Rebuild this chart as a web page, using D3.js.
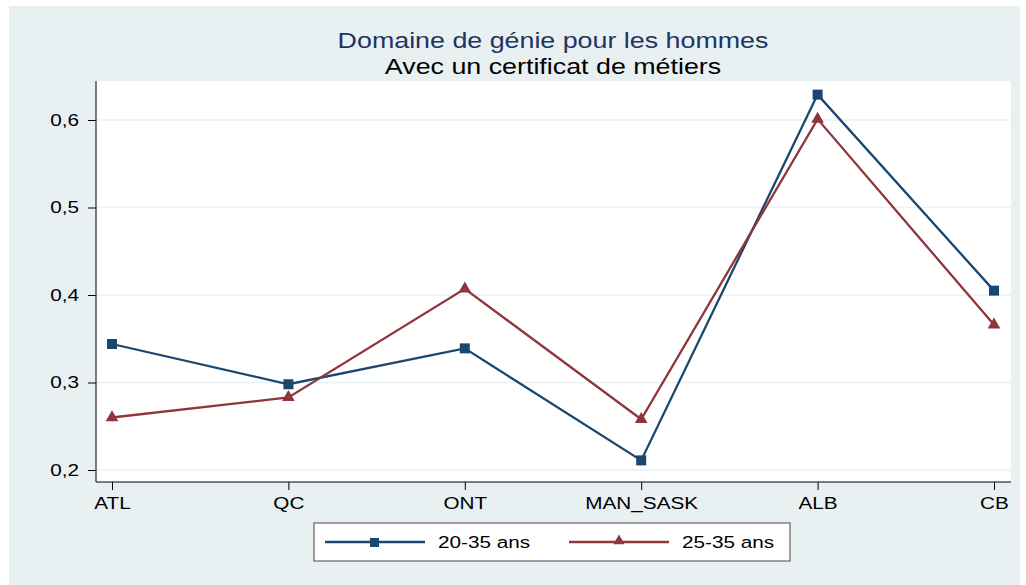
<!DOCTYPE html>
<html>
<head>
<meta charset="utf-8">
<script src="https://cdn.jsdelivr.net/npm/d3@7"></script>
<style>
  body { margin: 0; background: #fff; }
  text { font-family: "Liberation Sans", Arial, sans-serif; }
</style>
</head>
<body>
<div id="visualization"></div>
<script>
var regions = ["ATL", "QC", "ONT", "MAN_SASK", "ALB", "CB"];
var ans2035 = [0.344, 0.298, 0.339, 0.211, 0.629, 0.405];
var ans2535 = [0.260, 0.283, 0.407, 0.258, 0.601, 0.366];
var yTicks = [0.2, 0.3, 0.4, 0.5, 0.6];
var seriesNames = ["20-35 ans", "25-35 ans"];

render();

function render() {
  var W = 1026, H = 585;
  var plot = {left: 96, right: 1011, top: 81, bottom: 482};
  var blue = "#1a476f", red = "#90353b";
  var sx = 1.22; // the original text is drawn wider than it is tall

  var svg = d3.select("#visualization").append("svg")
      .attr("width", W).attr("height", H);

  // stretched text, placed at (px, py)
  function label(parent, px, py, str, size, anchor, color) {
    return parent.append("g").attr("transform", "translate(" + px + "," + py + ") scale(" + sx + ",1)")
      .append("text").attr("text-anchor", anchor || "start")
      .attr("font-size", size).attr("fill", color || "#000").text(str);
  }

  // graph region
  svg.append("rect").attr("x", 9).attr("y", 6).attr("width", W - 15).attr("height", H - 6)
     .attr("fill", "#e8f0f2");
  svg.append("rect").attr("x", plot.left).attr("y", plot.top)
     .attr("width", plot.right - plot.left).attr("height", plot.bottom - plot.top)
     .attr("fill", "#fff");

  var x = d3.scalePoint().domain(regions).range([112, 994]);
  var y = d3.scaleLinear().domain([0.2, 0.6]).range([470, 120]);

  // gridlines
  svg.append("g").selectAll("line").data(yTicks).enter().append("line")
     .attr("x1", plot.left).attr("x2", plot.right)
     .attr("y1", d => y(d)).attr("y2", d => y(d))
     .attr("stroke", "#eaf2f3").attr("stroke-width", 1.5);

  var fmt = d => d3.format(".1f")(d).replace(".", ",");

  var yAxis = d3.axisLeft(y).tickValues(yTicks).tickFormat(fmt).tickSize(8).tickPadding(9);
  var gy = svg.append("g").attr("transform", "translate(" + plot.left + ",0)").call(yAxis);
  gy.select(".domain").attr("d", "M0," + plot.top + "V" + plot.bottom).attr("stroke", "#000");
  gy.selectAll(".tick text").attr("transform", "scale(" + sx + ",1)")
    .attr("x", -17 / sx);

  var xAxis = d3.axisBottom(x).tickSize(8).tickPadding(7);
  var gx = svg.append("g").attr("transform", "translate(0," + plot.bottom + ")").call(xAxis);
  gx.select(".domain").attr("d", "M" + plot.left + ",0H" + plot.right).attr("stroke", "#000");
  gx.selectAll(".tick text").attr("transform", "scale(" + sx + ",1)");

  svg.selectAll(".tick text").attr("font-size", 17).attr("fill", "#000")
     .style("font-family", "'Liberation Sans', Arial, sans-serif");
  svg.selectAll(".tick line").attr("stroke", "#000");

  var line = d3.line().x((d, i) => x(regions[i])).y(d => y(d));
  var tri = d3.symbol().type(d3.symbolTriangle).size(70);

  svg.append("path").datum(ans2035).attr("d", line)
     .attr("fill", "none").attr("stroke", blue).attr("stroke-width", 2.3);
  svg.append("path").datum(ans2535).attr("d", line)
     .attr("fill", "none").attr("stroke", red).attr("stroke-width", 2.3);

  svg.append("g").selectAll("rect").data(ans2035).enter().append("rect")
     .attr("x", (d, i) => x(regions[i]) - 5).attr("y", d => y(d) - 5)
     .attr("width", 10).attr("height", 10).attr("fill", blue);
  svg.append("g").selectAll("path").data(ans2535).enter().append("path")
     .attr("d", tri)
     .attr("transform", (d, i) => "translate(" + x(regions[i]) + "," + y(d) + ")")
     .attr("fill", red);

  // titles
  label(svg, 553, 48, "Domaine de génie pour les hommes", 22, "middle", "#1e3461");
  label(svg, 553, 74, "Avec un certificat de métiers", 22, "middle", "#000");

  // legend
  var leg = svg.append("g");
  leg.append("rect").attr("x", 314).attr("y", 523).attr("width", 476).attr("height", 38)
     .attr("fill", "#fff").attr("stroke", "#444").attr("stroke-width", 1);
  var items = [{x: 325, c: blue, s: "sq", t: seriesNames[0]}, {x: 569, c: red, s: "tri", t: seriesNames[1]}];
  items.forEach(function(it) {
    leg.append("line").attr("x1", it.x).attr("x2", it.x + 100).attr("y1", 542).attr("y2", 542)
       .attr("stroke", it.c).attr("stroke-width", 2.3);
    if (it.s === "sq") {
      leg.append("rect").attr("x", it.x + 45).attr("y", 538).attr("width", 9).attr("height", 9).attr("fill", it.c);
    } else {
      leg.append("path").attr("d", d3.symbol().type(d3.symbolTriangle).size(55))
         .attr("transform", "translate(" + (it.x + 50) + ",541)").attr("fill", it.c);
    }
    label(leg, it.x + 113, 548, it.t, 17, "start");
  });
}
</script>
</body>
</html>
